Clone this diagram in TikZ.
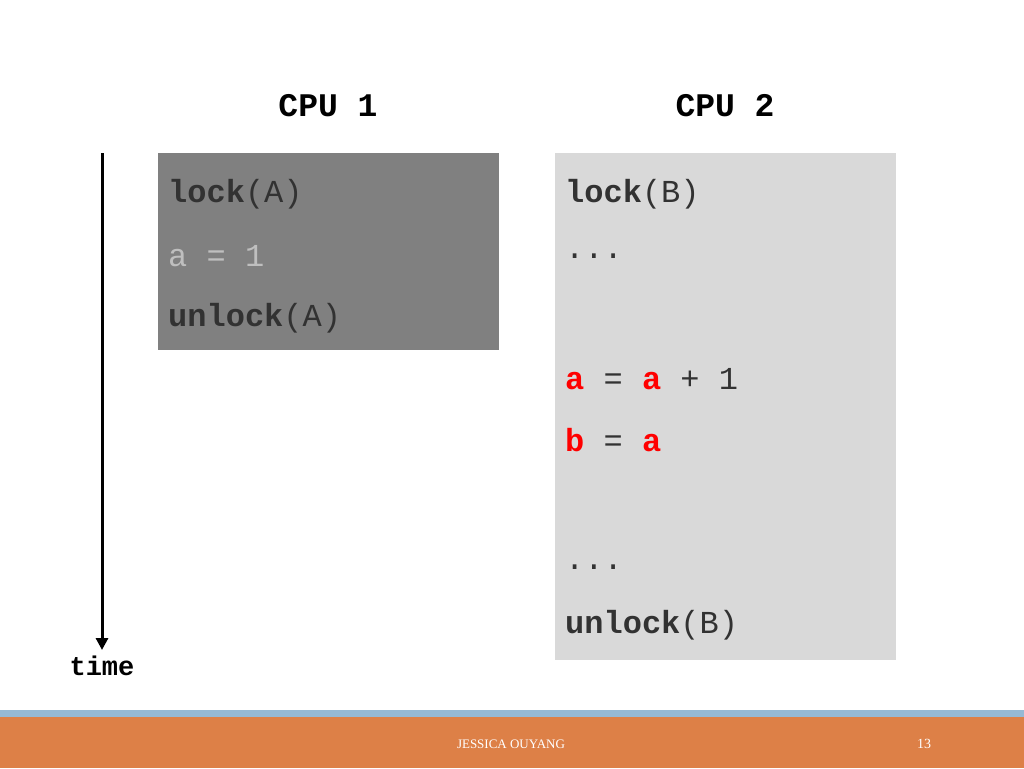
\documentclass[tikz,border=0pt]{standalone}
\usepackage{fontspec}
\setmonofont{Liberation Mono}
\setmainfont{Liberation Serif}
\usetikzlibrary{positioning,arrows.meta}
\definecolor{boxdark}{RGB}{128,128,128}
\definecolor{boxlight}{RGB}{217,217,217}
\definecolor{footorange}{RGB}{221,128,71}
\definecolor{footblue}{RGB}{150,185,212}
\definecolor{codegray}{RGB}{50,50,50}
\definecolor{codered}{RGB}{255,0,0}
\tikzset{
  code/.style={anchor=west, inner sep=0pt, font=\ttfamily\fontsize{32}{32}\selectfont, text=codegray},
  head/.style={inner sep=0pt, font=\ttfamily\bfseries\fontsize{33}{33}\selectfont, text=black}
}
\begin{document}
\begin{tikzpicture}[x=1pt,y=-1pt]
\useasboundingbox (0,0) rectangle (1024,768);
% footer
\fill[footblue] (0,710) rectangle (1024,717);
\fill[footorange] (0,717) rectangle (1024,768);
\node[text=white, font=\fontsize{13}{13}\selectfont] (author) at (511,744) {JESSICA OUYANG};
\node[text=white, font=\fontsize{14}{14}\selectfont] (page) at (924,744) {13};
% boxes
\fill[boxdark] (158,153) rectangle (499,350);
\fill[boxlight] (555,153) rectangle (896,660);
\node[head] (cpu1) at (328,106) {CPU 1};
\node[head] (cpu2) at (725,106) {CPU 2};
% time axis
\coordinate (tstart) at (102,153);
\coordinate (tend) at (102,650);
\draw[line width=3pt, -{Triangle[length=12pt,width=12pt]}] (tstart) -- (tend);
\node[head, font=\ttfamily\bfseries\fontsize{27}{27}\selectfont] (time) at (102,666) {time};
% CPU 1
\node[code] (l1) at (168,194) {\textbf{lock}(A)};
\node[code, text=black!25] (l2) at (168,256) {a = 1};
\node[code] (l3) at (168,318) {\textbf{unlock}(A)};
% CPU 2
\node[code] (r1) at (565,194) {\textbf{lock}(B)};
\node[code] (r2) at (565,256) {...};
\node[code] (r3) at (565,379) {\textcolor{codered}{\textbf{a}} = \textcolor{codered}{\textbf{a}} + 1};
\node[code] (r4) at (565,440) {\textcolor{codered}{\textbf{b}} = \textcolor{codered}{\textbf{a}}};
\node[code] (r5) at (565,567) {...};
\node[code] (r6) at (565,625) {\textbf{unlock}(B)};
\end{tikzpicture}
\end{document}
